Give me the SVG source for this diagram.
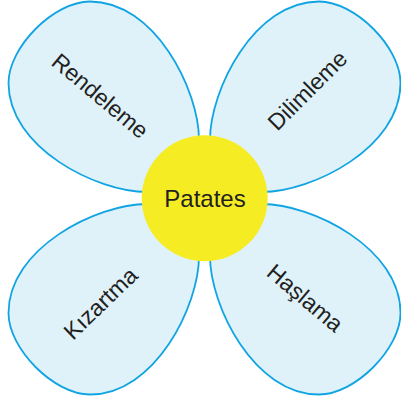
<svg xmlns="http://www.w3.org/2000/svg" xmlns:xlink="http://www.w3.org/1999/xlink" width="401" height="404" viewBox="0 0 401 404">
<style>
.petal{fill:#DFF2FA;stroke:#10A4E3;stroke-width:1.8;stroke-linejoin:round}
.lbl{font-family:"Liberation Sans",Arial,sans-serif;font-size:23px;fill:#231F20;text-anchor:middle}
.center{fill:#F6EC24}
.ctext{font-family:"Liberation Sans",Arial,sans-serif;font-size:24px;fill:#231F20;text-anchor:middle}
</style>
<defs>
<path id="petalShape" d="M199,192 L199,140 C199,90 155,1.5 90,1.5 C54,1.5 8.5,47 8.5,83 C8.5,148 97,192 147,192 Z"/>
</defs>
<rect width="401" height="404" fill="#FFFFFF"/>
<g id="petal-rendeleme">
<use xlink:href="#petalShape" class="petal"/>
<text class="lbl" transform="translate(95,102) rotate(40)">Rendeleme</text>
</g>
<g id="petal-dilimleme">
<use xlink:href="#petalShape" class="petal" transform="matrix(-1,0,0,1,409,0)"/>
<text class="lbl" transform="translate(313,96) rotate(-45)">Dilimleme</text>
</g>
<g id="petal-kizartma">
<use xlink:href="#petalShape" class="petal" transform="matrix(1,0,0,-1,0,396)"/>
<text class="lbl" transform="translate(106,309) rotate(-44)">Kızartma</text>
</g>
<g id="petal-haslama">
<use xlink:href="#petalShape" class="petal" transform="matrix(-1,0,0,-1,409,396)"/>
<text class="lbl" transform="translate(300,304) rotate(40)">Haşlama</text>
</g>
<g id="center-patates">
<circle class="center" cx="204.7" cy="198.3" r="63"/>
<text class="ctext" x="205" y="206.5">Patates</text>
</g>
</svg>
